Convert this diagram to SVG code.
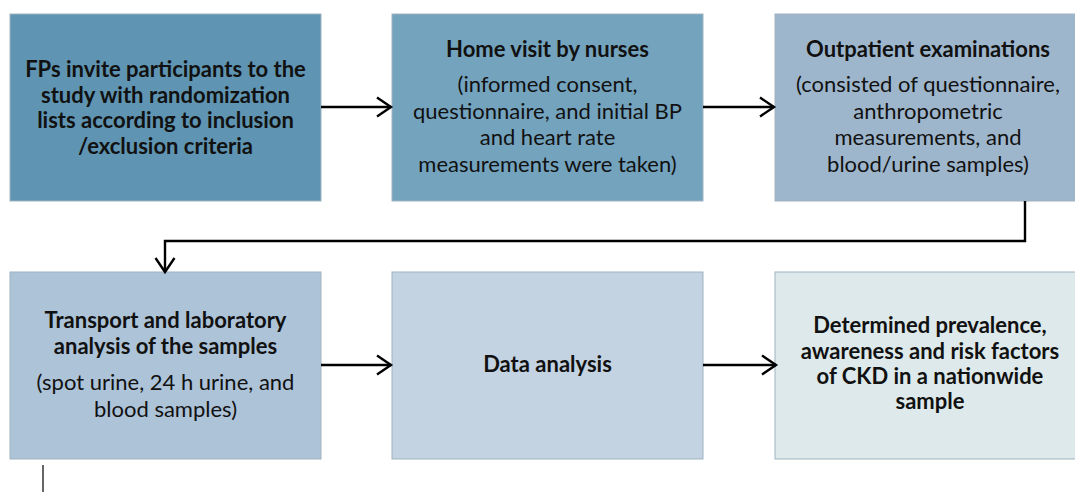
<svg xmlns="http://www.w3.org/2000/svg" width="1075" height="492" viewBox="0 0 1075 492">
  <style>
    .box { stroke: #9fb3c0; stroke-width: 1; }
    .t { font-family: Lato, "Liberation Sans", sans-serif; font-size: 22px; fill: #111; text-anchor: middle; }
    .b { font-weight: bold; }
    .link { fill: none; stroke: #000; stroke-width: 2.4; }
  </style>
  <defs>
    <marker id="arrow" markerWidth="18" markerHeight="22" refX="15" refY="11" orient="auto" markerUnits="userSpaceOnUse">
      <path d="M1,1.5 L15,11 L1,20.5" fill="none" stroke="#000" stroke-width="2.4"/>
    </marker>
  </defs>
  <rect width="1075" height="492" fill="#fff"/>

  <g id="node-invite">
    <rect class="box" x="10" y="14" width="311" height="187" fill="#5f95b2"/>
    <text class="t b" x="165.5" y="77">FPs invite participants to the</text>
    <text class="t b" x="165.5" y="103">study with randomization</text>
    <text class="t b" x="165.5" y="128">lists according to inclusion</text>
    <text class="t b" x="165.5" y="154">/exclusion criteria</text>
  </g>

  <g id="node-home-visit">
    <rect class="box" x="392" y="14" width="311" height="187" fill="#74a3be"/>
    <text class="t b" x="547.5" y="57">Home visit by nurses</text>
    <text class="t" x="547.5" y="92">(informed consent,</text>
    <text class="t" x="547.5" y="119">questionnaire, and initial BP</text>
    <text class="t" x="547.5" y="145">and heart rate</text>
    <text class="t" x="547.5" y="172">measurements were taken)</text>
  </g>

  <g id="node-outpatient">
    <rect class="box" x="775" y="14" width="310" height="187" fill="#9eb6cc"/>
    <text class="t b" x="928" y="57">Outpatient examinations</text>
    <text class="t" x="928" y="92">(consisted of questionnaire,</text>
    <text class="t" x="928" y="119">anthropometric</text>
    <text class="t" x="928" y="145">measurements, and</text>
    <text class="t" x="928" y="172">blood/urine samples)</text>
  </g>

  <g id="node-transport">
    <rect class="box" x="10" y="272" width="311" height="187" fill="#adc3d8"/>
    <text class="t b" x="165.5" y="328">Transport and laboratory</text>
    <text class="t b" x="165.5" y="354">analysis of the samples</text>
    <text class="t" x="165.5" y="390">(spot urine, 24 h urine, and</text>
    <text class="t" x="165.5" y="417">blood samples)</text>
  </g>

  <g id="node-data-analysis">
    <rect class="box" x="392" y="272" width="311" height="187" fill="#c4d3e1"/>
    <text class="t b" x="547.5" y="372">Data analysis</text>
  </g>

  <g id="node-results">
    <rect class="box" x="775" y="272" width="310" height="187" fill="#dde9ea"/>
    <text class="t b" x="930" y="333">Determined prevalence,</text>
    <text class="t b" x="930" y="359">awareness and risk factors</text>
    <text class="t b" x="930" y="384">of CKD in a nationwide</text>
    <text class="t b" x="930" y="409">sample</text>
  </g>

  <g id="connectors">
    <line class="link" x1="321" y1="107" x2="391" y2="107" marker-end="url(#arrow)"/>
    <line class="link" x1="703" y1="107" x2="774" y2="107" marker-end="url(#arrow)"/>
    <polyline class="link" points="1025,201 1025,241 165,241 165,272" marker-end="url(#arrow)"/>
    <line class="link" x1="321" y1="365" x2="391" y2="365" marker-end="url(#arrow)"/>
    <line class="link" x1="703" y1="365" x2="776" y2="365" marker-end="url(#arrow)"/>
    <line x1="43" y1="465" x2="43" y2="492" stroke="#333" stroke-width="1.5"/>
  </g>
</svg>
